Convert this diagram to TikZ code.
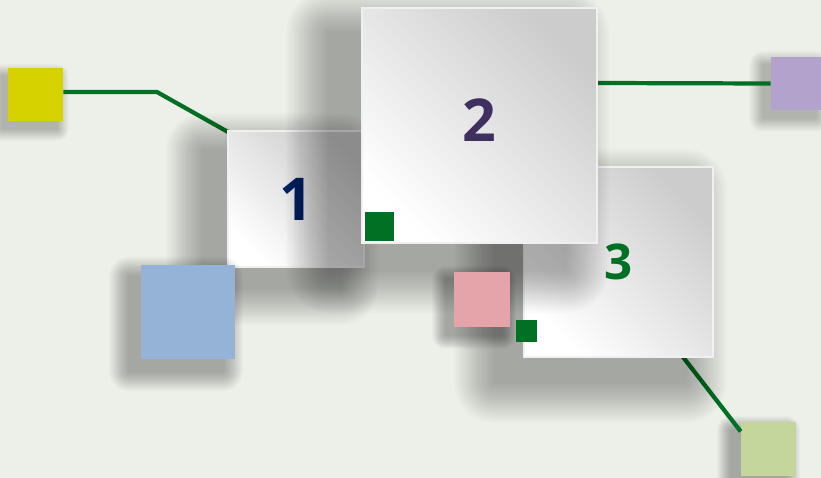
\documentclass[tikz,border=0pt]{standalone}
\usepackage{fontspec}
\setsansfont{Open Sans}
\definecolor{bgpaper}{RGB}{237,239,233}
\definecolor{linkgreen}{RGB}{0,112,36}
\definecolor{tileyellow}{RGB}{214,210,0}
\definecolor{tilepurple}{RGB}{178,162,204}
\definecolor{tileblue}{RGB}{149,179,215}
\definecolor{tilepink}{RGB}{228,164,170}
\definecolor{tilelime}{RGB}{196,214,155}
\definecolor{numnavy}{RGB}{0,32,96}
\definecolor{numplum}{RGB}{64,48,96}
\usetikzlibrary{calc}

% soft shadow: centre x, centre y, width, height, shift x, shift y, spread, opacity
\newcommand\castshadow[8]{%
  \foreach \k [evaluate=\k as \g using {#7*(21-\k)/20}, evaluate=\k as \rc using {#7*(21-\k)/20*0.7}] in {1,...,20}
    \fill[black, opacity=#8, rounded corners=\rc pt]
      ({#1-#3/2+#5-\g},{#2-#4/2+#6-\g}) rectangle ({#1+#3/2+#5+\g},{#2+#4/2+#6+\g});
}

\begin{document}
\begin{tikzpicture}[
  x=0.025cm, y=-0.025cm,
  card/.style={rectangle, inner sep=0, draw=white!94!black, line width=1.2pt, top color=black!20, middle color=white!95!black, bottom color=white, shading angle=-45, font=\sffamily\bfseries\fontsize{42}{42}\selectfont},
  tile/.style={rectangle, inner sep=0},
  dot/.style={rectangle, inner sep=0, fill=linkgreen},
  link/.style={line width=3pt, linkgreen}
]
  \clip (0,0) rectangle (821,478);
  \fill[bgpaper] (0,0) rectangle (821,478);

  % Anchor points of the links
  \coordinate (bend) at (157,92);
  \coordinate (sq3foot) at (683,357);
  \coordinate (sq1corner) at (228,132);
  \coordinate (sq2side) at (597,83);

  % Back tiles
  \castshadow{35.5}{94.5}{55}{53}{-6}{8}{12}{0.013}
  \node[tile, fill=tileyellow, minimum width=1.375cm, minimum height=1.325cm] (yellowsq) at (35.5,94.5) {};
  \castshadow{797.5}{83.5}{53}{53}{-8}{8}{14}{0.013}
  \node[tile, fill=tilepurple, minimum width=1.325cm, minimum height=1.325cm] (purplesq) at (797.5,83.5) {};
  \castshadow{768.5}{449}{55}{54}{-10}{8}{14}{0.015}
  \node[tile, fill=tilelime, minimum width=1.375cm, minimum height=1.35cm] (limesq) at (768.5,449) {};

  % Links
  \draw[link] (yellowsq.east |- bend) -- (bend) -- (sq1corner);
  \draw[link] (sq2side) -- (purplesq.west);
  \draw[link] (sq3foot) -- ($(limesq.north west)!0.18!(limesq.south west)$);

  % Cards
  \castshadow{296}{199}{136}{136}{-24}{20}{38}{0.017}
  \node[card, minimum size=3.4cm] (sq1) at (296,199) {\color{numnavy}1};
  \castshadow{618.5}{262}{189}{190}{-28}{24}{42}{0.017}
  \node[card, minimum width=4.725cm, minimum height=4.75cm, font=\sffamily\bfseries\fontsize{35}{35}\selectfont] (sq3) at (618.5,262) {\color{linkgreen}3};
  \castshadow{479.5}{125.5}{235}{235}{-32}{26}{44}{0.017}
  \node[card, minimum size=5.875cm] (sq2) at (479.5,125.5) {\color{numplum}\raisebox{0.25cm}{2}};

  % Front tiles
  \castshadow{188}{312}{94}{94}{-12}{12}{20}{0.016}
  \node[tile, fill=tileblue, minimum size=2.35cm] (bluesq) at (188,312) {};
  \castshadow{482}{299.5}{56}{55}{-8}{8}{14}{0.015}
  \node[tile, fill=tilepink, minimum width=1.4cm, minimum height=1.375cm] (pinksq) at (482,299.5) {};

  % Dots
  \node[dot, minimum size=0.725cm] (dot1) at (379.5,226.5) {};
  \node[dot, minimum width=0.53cm, minimum height=0.55cm] (dot2) at (526.5,331) {};
\end{tikzpicture}
\end{document}
